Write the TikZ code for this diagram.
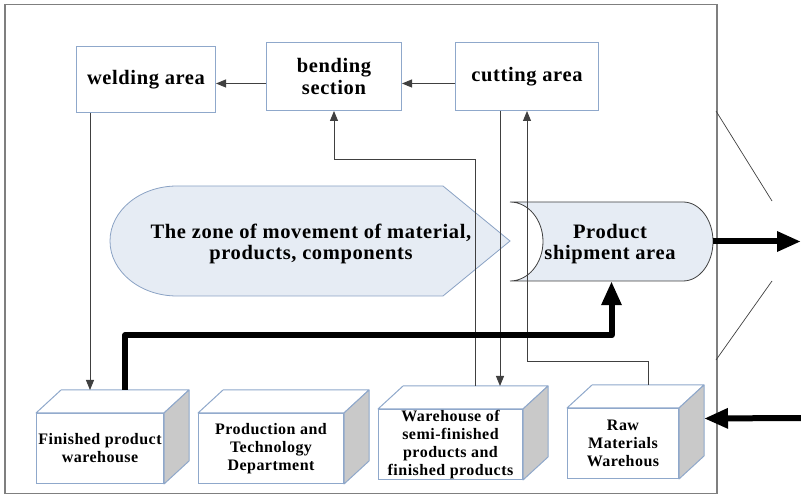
\documentclass[tikz,border=0pt]{standalone}
\usepackage{fontspec}
\setmainfont{Liberation Serif}[LetterSpace=3]
\usetikzlibrary{calc,arrows.meta}
\definecolor{boxblue}{HTML}{8FA8CB}
\definecolor{zonefill}{HTML}{E6ECF4}
\definecolor{zoneedge}{HTML}{8AA2C4}
\definecolor{framegray}{HTML}{7F7F7F}
\definecolor{sidegray}{HTML}{C9C9C9}
\definecolor{linegray}{HTML}{404040}
\newcommand\cubefaces[1]{%
  \draw[draw=boxblue, line width=1pt, fill=white, line join=round]
    (#1.north west) -- ++(25,-23) -- ($(#1.north east)+(25,-23)$) -- (#1.north east) -- cycle;
  \draw[draw=boxblue, line width=1pt, fill=sidegray, line join=round]
    (#1.north east) -- ++(25,-23) -- ($(#1.south east)+(25,-23)$) -- (#1.south east) -- cycle;
  \coordinate (#1top) at ($(#1.north)+(25,-23)$);
}
\begin{document}
\begin{tikzpicture}[x=1pt,y=-1pt,
  topbox/.style={draw=boxblue, line width=1pt, fill=white, align=center,
    font=\fontsize{20.5}{21.5}\selectfont\bfseries, inner sep=0pt, anchor=north west},
  cubefront/.style={draw=boxblue, line width=1pt, fill=white, align=center,
    font=\fontsize{16}{18}\selectfont\bfseries, inner sep=0pt, minimum height=70, anchor=north west},
  conn/.style={draw=linegray, line width=0.9pt},
  tip/.style={-{Triangle[length=10pt,width=8pt]}},
  heavy/.style={line width=6pt, line join=round, -{Triangle[length=24pt,width=19pt]}},
  zonetext/.style={align=center, font=\fontsize{20.5}{21.5}\selectfont\bfseries, inner sep=0pt}
]
\useasboundingbox (0,0) rectangle (801,494);
% frame
\node[draw=framegray, line width=1.5pt, minimum width=712, minimum height=489,
  anchor=north west, inner sep=0pt] (frame) at (4,4) {};
\coordinate (d1a) at (716,111);
\coordinate (d1b) at (772,201);
\coordinate (d2a) at (772,281);
\coordinate (d2b) at (716,360);
\draw[draw=linegray, line width=0.7pt] (d1a) -- (d1b);
\draw[draw=linegray, line width=0.7pt] (d2a) -- (d2b);

% top boxes
\node[topbox, minimum width=139, minimum height=66] (weld) at (76,46) {welding area};
\node[topbox, minimum width=135, minimum height=68] (bend) at (266,42) {bending\\section};
\node[topbox, minimum width=143, minimum height=68] (cut) at (455,42) {cutting area};

% zone of movement
\fill[zonefill] (177,186) -- (443,186) -- (510,241) -- (443,296) -- (177,296)
  arc[start angle=90, end angle=270, x radius=67, y radius=55] -- cycle;
\draw[draw=zoneedge, line width=0.8pt] (177,186) -- (443,186) -- (510,241) -- (443,296) -- (177,296)
  arc[start angle=90, end angle=270, x radius=67, y radius=55] -- cycle;
\node[zonetext] (zone) at (311,244) {The zone of movement of material,\\products, components};

% product shipment
\coordinate (s1) at (510,202);
\coordinate (s2) at (683,202);
\coordinate (s3) at (510,281);
\draw[draw=linegray, line width=0.8pt, fill=zonefill] (s1) -- (s2)
  arc[start angle=-90, end angle=90, x radius=30, y radius=39.5] -- (s3)
  arc[start angle=90, end angle=-90, x radius=33, y radius=39.5] -- cycle;
\node[zonetext, minimum width=203, minimum height=79] (ship) at (611.5,241.5) {};
\node[zonetext] (shiptext) at (610,244) {Product\\shipment area};

% cubes
\node[cubefront, minimum width=127] (fw) at (36,413) {Finished product\\warehouse};
\cubefaces{fw}
\node[cubefront, minimum width=145] (pt) at (198,413) {Production and\\Technology\\Department};
\cubefaces{pt}
\node[cubefront, minimum width=144] (sw) at (378,409) {Warehouse of\\semi-finished\\products and\\finished products};
\cubefaces{sw}
\node[cubefront, minimum width=111] (rw) at (567,408) {Raw\\Materials\\Warehous};
\cubefaces{rw}
\coordinate (rwside) at ($(rw.east)+(25,-25)$);

% connectors
\draw[conn,tip] ([yshift=-7pt]cut.west) coordinate (c0) -- (c0 -| bend.east);
\draw[conn,tip] ([yshift=-7pt]bend.west) coordinate (b0) -- (b0 -| weld.east);
\draw[conn,tip] ([xshift=14pt]weld.south west) coordinate (w1) -- (w1 |- fwtop);
\draw[conn,tip] (swtop) |- ($(bend.south)+(0,48)$) -- (bend.south);
\draw[conn,tip] ([xshift=-27pt]cut.south) coordinate (c1) -- (c1 |- swtop);
\draw[conn,tip] (rwtop) |- ($(cut.south)+(0,250)$) -- (cut.south);

% heavy arrows
\draw[heavy] (fwtop) |- ($(ship.south)+(0,54)$) -- (ship.south);
\coordinate (outend) at (801,241.5);
\draw[heavy] (ship.east) -- (outend);
\coordinate (instart) at (801,418);
\draw[heavy] (instart) -- (rwside);
\end{tikzpicture}
\end{document}
